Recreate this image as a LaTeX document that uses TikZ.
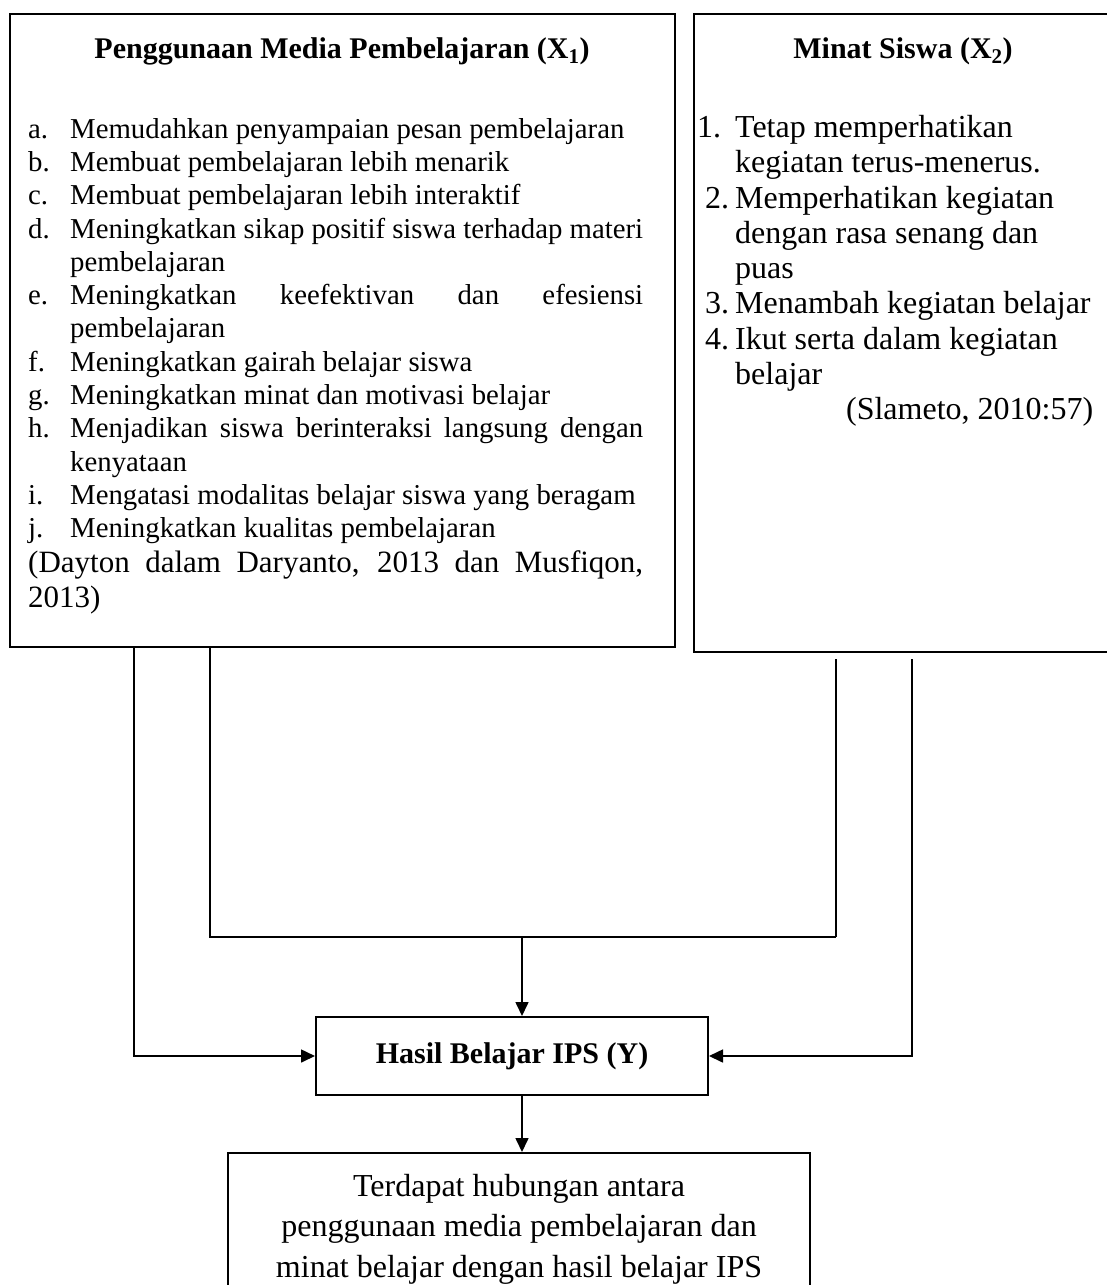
\documentclass[tikz,border=0pt]{standalone}
\usepackage{fontspec}
\setmainfont{Liberation Serif}
\usetikzlibrary{positioning,arrows.meta}

\begin{document}
\begin{tikzpicture}[x=1pt,y=1pt,
      kotak/.style={draw, line width=2pt, inner sep=0pt},
      judul/.style={font=\fontsize{30}{36}\selectfont\bfseries, inner sep=0pt},
      isi/.style={inner sep=0pt, align=flush left, anchor=north west},
      garis/.style={line width=1.6pt},
      panah/.style={garis, -{Triangle[length=14pt,width=13pt]}}]
    \useasboundingbox (0,0) rectangle (1107,-1285);
    \clip (0,0) rectangle (1107,-1285);
    % kotak variabel bebas
    \node[kotak, minimum width=665pt, minimum height=633pt] (X1) at (342.5,-330.5) {};
    \node[kotak, minimum width=440pt, minimum height=638pt] (X2) at (914,-333) {};
    \node[judul] (jd1) at (342,-51) {Penggunaan Media Pembelajaran (X\textsubscript{1})};
    \node[judul] (jd2) at (903,-51) {Minat Siswa (X\textsubscript{2})};
    \node[isi, text width=615pt, font=\fontsize{28.8}{33.3}\selectfont] (lst1) at (28,-118) {%
      \makebox[42pt][l]{a.}Memudahkan penyampaian pesan pembelajaran\\
      \makebox[42pt][l]{b.}Membuat pembelajaran lebih menarik\\
      \makebox[42pt][l]{c.}Membuat pembelajaran lebih interaktif\\
      \makebox[42pt][l]{d.}\makebox[573pt][s]{Meningkatkan sikap positif siswa terhadap materi}\\
      \hspace*{42pt}pembelajaran\\
      \makebox[42pt][l]{e.}\makebox[573pt][s]{Meningkatkan keefektivan dan efesiensi}\\
      \hspace*{42pt}pembelajaran\\
      \makebox[42pt][l]{f.}Meningkatkan gairah belajar siswa\\
      \makebox[42pt][l]{g.}Meningkatkan minat dan motivasi belajar\\
      \makebox[42pt][l]{h.}\makebox[573pt][s]{Menjadikan siswa berinteraksi langsung dengan}\\
      \hspace*{42pt}kenyataan\\
      \makebox[42pt][l]{i.}Mengatasi modalitas belajar siswa yang beragam\\
      \makebox[42pt][l]{j.}Meningkatkan kualitas pembelajaran\par
      {\fontsize{31}{35}\selectfont
      \makebox[615pt][s]{(Dayton dalam Daryanto, 2013 dan Musfiqon,}\\
      2013)\par}};
    \node[isi, text width=420pt, font=\fontsize{32}{35.3}\selectfont] (lst2) at (697,-115) {%
      \makebox[38pt][l]{1.}Tetap memperhatikan\\
      \hspace*{38pt}kegiatan terus-menerus.\\
      \hspace*{8pt}\makebox[30pt][l]{2.}Memperhatikan kegiatan\\
      \hspace*{38pt}dengan rasa senang dan\\
      \hspace*{38pt}puas\\
      \hspace*{8pt}\makebox[30pt][l]{3.}Menambah kegiatan belajar\\
      \hspace*{8pt}\makebox[30pt][l]{4.}Ikut serta dalam kegiatan\\
      \hspace*{38pt}belajar\\
      \makebox[396pt][r]{(Slameto, 2010:57)}};
    % variabel terikat dan kesimpulan
    \node[kotak, minimum width=392pt, minimum height=78pt,
          font=\fontsize{30}{36}\selectfont\bfseries] (Y) at (512,-1056) {Hasil Belajar IPS (Y)};
    \node[kotak, minimum width=582pt, inner ysep=21pt, align=center, anchor=north,
          font=\fontsize{32}{40.5}\selectfont] (res) at (519,-1152)
      {Terdapat hubungan antara\\ penggunaan media pembelajaran dan\\
       minat belajar dengan hasil belajar IPS};
    % titik bantu garis
    \coordinate (cA) at (134,0);
    \coordinate (cB) at (210,0);
    \coordinate (cC) at (836,0);
    \coordinate (cD) at (912,0);
    \coordinate (jM) at (522,-937);
    \coordinate (jR) at (836,-937);
    \coordinate (rb) at ([yshift=-6pt]X2.south);
    \draw[panah] (X1.south -| cA) |- (Y.west);
    \draw[garis] (X1.south -| cB) |- (jR);
    \draw[garis] (rb -| cC) -- (jR);
    \draw[panah] (jM) -- (jM |- Y.north);
    \draw[panah] (rb -| cD) |- (Y.east);
    \draw[panah] (Y.south -| jM) -- (res.north -| jM);
  \end{tikzpicture}
\end{document}
